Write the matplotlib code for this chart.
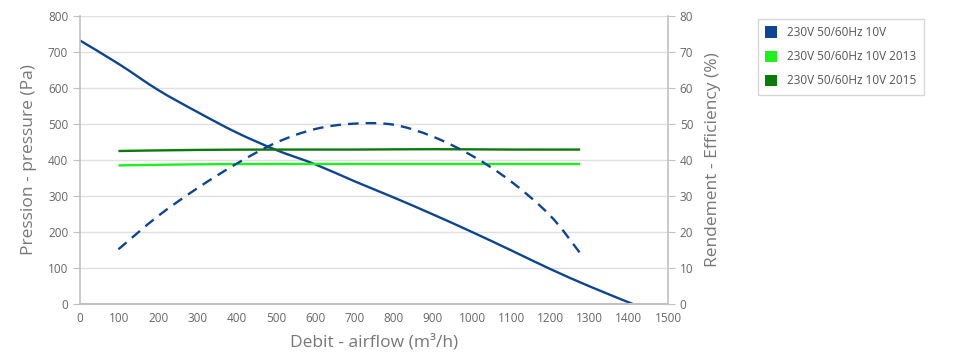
import matplotlib
matplotlib.use('Agg')
import matplotlib.pyplot as plt
from matplotlib.patches import Patch, PathPatch
from matplotlib.path import Path

plt.rcParams['font.family'] = ['Open Sans', 'DejaVu Sans']

# 数据
flow_p = [0, 100, 200, 300, 400, 500, 600, 700, 800, 900, 1000, 1100, 1200, 1300, 1410]
pressure = [732, 666, 594, 533, 476, 428, 388, 341, 296, 249, 200, 149, 97, 49, 0]

flow_e = [98, 200, 300, 400, 500, 600, 700, 800, 900, 1000, 1100, 1200, 1276]
efficiency = [15.2, 24.5, 32.2, 39.0, 44.8, 48.6, 50.1, 49.8, 46.5, 41.2, 34.0, 24.5, 14.1]

flow_g = [98, 300, 500, 700, 900, 1100, 1276]
green_2013 = [385, 388, 389, 389, 389, 389, 389]
green_2015 = [425, 428, 429, 429, 430, 429, 429]

series_names = ['230V 50/60Hz 10V', '230V 50/60Hz 10V 2013', '230V 50/60Hz 10V 2015']
colors = ['#0d4591', '#1ef01e', '#0b7a0b']

x_ticks = list(range(0, 1501, 100))
p_ticks = list(range(0, 801, 100))
e_ticks = list(range(0, 81, 10))


def spline(ax, xs, ys, **kw):
    """像 Highcharts 一样用贝塞尔曲线画平滑线（只改变画法，不增加数据点）"""
    n = len(xs)
    verts = [(xs[0], ys[0])]
    codes = [Path.MOVETO]
    for i in range(n - 1):
        x0, y0 = xs[max(i - 1, 0)], ys[max(i - 1, 0)]
        x1, y1 = xs[i], ys[i]
        x2, y2 = xs[i + 1], ys[i + 1]
        x3, y3 = xs[min(i + 2, n - 1)], ys[min(i + 2, n - 1)]
        c1 = (x1 + (x2 - x0) / 6, y1 + (y2 - y0) / 6)
        c2 = (x2 - (x3 - x1) / 6, y2 - (y3 - y1) / 6)
        verts += [c1, c2, (x2, y2)]
        codes += [Path.CURVE4] * 3
    ax.add_patch(PathPatch(Path(verts, codes), fill=False, **kw))


fig = plt.figure(figsize=(9.55, 3.63), dpi=100)
ax = fig.add_axes([80 / 955, 59 / 363, 588 / 955, 288 / 363])
ax2 = ax.twinx()

lw = 1.7
spline(ax, flow_p, pressure, edgecolor=colors[0], lw=lw)
spline(ax, flow_g, green_2013, edgecolor=colors[1], lw=lw)
spline(ax, flow_g, green_2015, edgecolor=colors[2], lw=lw)
spline(ax2, flow_e, efficiency, edgecolor=colors[0], lw=lw, linestyle=(0, (4.5, 3)))

grey = '#c0c0c0'
ax.set_xlim(0, 1500)
ax.set_ylim(0, 800)
ax2.set_ylim(0, 80)
ax.set_xticks(x_ticks)
ax.set_yticks(p_ticks)
ax2.set_yticks(e_ticks)
ax.grid(axis='y', color='#e0e0e0', lw=1)
ax.set_axisbelow(True)

for a in (ax, ax2):
    for s in a.spines.values():
        s.set_visible(False)
ax.spines['left'].set_visible(True)
ax.spines['bottom'].set_visible(True)
ax2.spines['right'].set_visible(True)
ax.spines['left'].set_color(grey)
ax.spines['bottom'].set_color(grey)
ax2.spines['right'].set_color(grey)
ax.spines['left'].set_linewidth(1.2)
ax.spines['bottom'].set_linewidth(1.5)
ax2.spines['right'].set_linewidth(1.2)

ax.tick_params(axis='both', colors=grey, labelcolor='#666666', labelsize=8.5, length=5)
ax.tick_params(axis='x', length=0, pad=6)
ax2.tick_params(axis='y', colors=grey, labelcolor='#666666', labelsize=8.5, length=5)

ax.set_xlabel('Debit - airflow (m³/h)', color='#777777', fontsize=12.5, labelpad=6)
ax.set_ylabel('Pression - pressure (Pa)', color='#777777', fontsize=12.5, labelpad=8)
ax2.set_ylabel('Rendement - Efficiency (%)', color='#777777', fontsize=12.5, labelpad=8)

handles = [Patch(facecolor=c, edgecolor='none') for c in colors]
leg = fig.legend(handles, series_names, loc='upper left', bbox_to_anchor=(752 / 955, 1 - 13 / 363),
                 fontsize=8.5, frameon=True, fancybox=False, handlelength=1.0, handleheight=1.1,
                 handletextpad=0.9, labelspacing=0.95, borderpad=0.6)
leg.get_frame().set_edgecolor('#cccccc')
leg.get_frame().set_linewidth(1)
for t in leg.get_texts():
    t.set_color('#555555')

fig.savefig('out.png', dpi=100)
